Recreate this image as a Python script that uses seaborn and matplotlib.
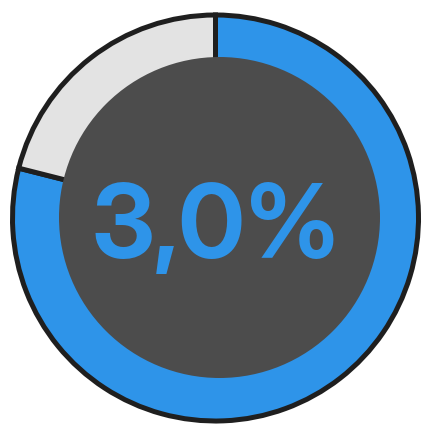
import matplotlib
matplotlib.use("Agg")
import matplotlib.pyplot as plt
import seaborn as sns

# data
labels = ["value", "remainder"]
values = [3.0, 0.8]
label_text = "3,0%"

blue = "#2e94e9"
grey = "#e3e3e3"
dark = "#4c4c4c"
black = "#1f1f1f"

sns.set_theme(style="white")
plt.rcParams['font.family'] = ['Inter Display', 'Inter', 'DejaVu Sans']

W, H = 423, 425
fig = plt.figure(figsize=(W / 100, H / 100), dpi=100)
ax = fig.add_axes([0, 0, 1, 1])

cx, cy = 215.5, H - 218
ax.pie(values, colors=[blue, grey], startangle=90, counterclock=False,
       radius=203, center=(cx, cy),
       wedgeprops=dict(width=62, edgecolor=black, linewidth=3.6))
ax.add_patch(plt.Circle((219.5, H - 217.5), 160.5, color=dark, zorder=5, lw=0))
ax.text(215.5, H - 258, label_text, color=blue, fontsize=73, fontweight='bold',
        ha='center', va='baseline', zorder=6)

ax.set_xlim(0, W)
ax.set_ylim(0, H)
ax.set_aspect('auto')
ax.axis('off')
fig.savefig("out.png", dpi=100)
